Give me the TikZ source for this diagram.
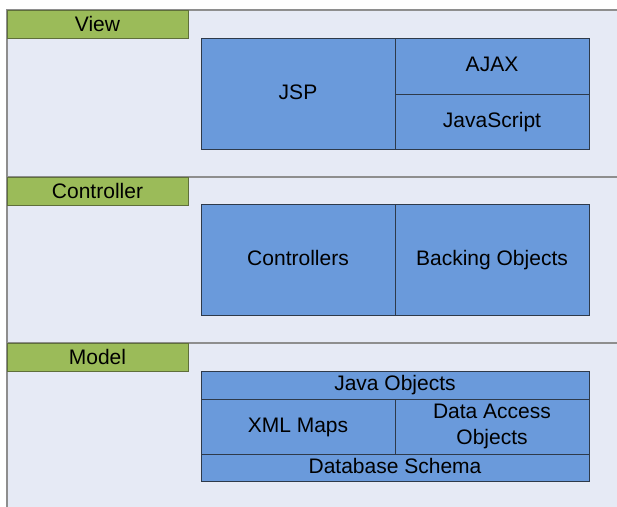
\documentclass[tikz,border=0pt]{standalone}
\usepackage{fontspec}
\setmainfont{Liberation Sans}
\usetikzlibrary{positioning}
\definecolor{paneBg}{HTML}{E6EAF5}
\definecolor{paneLine}{HTML}{8E8E8E}
\definecolor{tagGreen}{HTML}{9BBB59}
\definecolor{tagLine}{HTML}{5F6F3A}
\definecolor{boxBlue}{HTML}{6A9ADB}
\definecolor{boxLine}{HTML}{2E3A4A}

\begin{document}
\begin{tikzpicture}[
    x=1pt, y=-1pt,
    layer/.style={rectangle, draw=paneLine, line width=1.2pt, fill=paneBg, anchor=north west, minimum width=660pt, inner sep=0pt, outer sep=0pt},
    tag/.style={rectangle, draw=tagLine, line width=0.8pt, fill=tagGreen, anchor=north west, minimum width=181pt, minimum height=28pt, inner sep=0pt, outer sep=0pt, font=\fontsize{21}{24}\selectfont},
    block/.style={rectangle, draw=boxLine, line width=0.8pt, fill=boxBlue, anchor=north west, inner sep=0pt, outer sep=0pt, align=center, text height=15pt, text depth=4pt, font=\fontsize{21}{26}\selectfont}
]
\clip (0,0) rectangle (617,506);
\fill[white] (0,0) rectangle (617,506);

% layers
\node[layer, minimum height=167pt] (viewbg) at (7,10) {};
\node[layer, minimum height=166pt] (ctrlbg) at (7,177) {};
\node[layer, minimum height=190pt] (modelbg) at (7,343) {};

\node[tag] (view) at (viewbg.north west) {View};
\node[tag] (controller) at (ctrlbg.north west) {Controller};
\node[tag] (model) at (modelbg.north west) {Model};

% view
\node[block, minimum width=194pt, minimum height=111pt] (jsp) at (201,38) {JSP};
\node[block, minimum width=194pt, minimum height=56pt] (ajax) at (jsp.north east) {AJAX};
\node[block, minimum width=194pt, minimum height=55pt] (javascript) at (ajax.south west) {JavaScript};

% controller
\node[block, minimum width=194pt, minimum height=111pt] (controllers) at (201,204) {Controllers};
\node[block, minimum width=194pt, minimum height=111pt] (backing) at (controllers.north east) {Backing Objects};

% model
\node[block, minimum width=388pt, minimum height=28pt] (javaobj) at (201,371) {Java Objects};
\node[block, minimum width=194pt, minimum height=55pt] (xmlmaps) at (javaobj.south west) {XML Maps};
\node[block, minimum width=194pt, minimum height=55pt, text height=, text depth=] (dao) at (xmlmaps.north east) {Data Access\\Objects};
\node[block, minimum width=388pt, minimum height=27pt] (schema) at (xmlmaps.south west) {Database Schema};

\end{tikzpicture}
\end{document}
